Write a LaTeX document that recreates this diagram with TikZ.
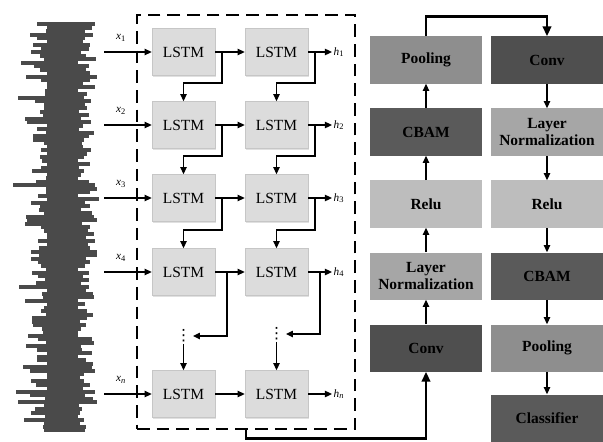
\documentclass[tikz,border=0pt]{standalone}
\usepackage{fontspec}
\setmainfont{Liberation Serif}
\newfontfamily\dotsfont{DejaVu Sans}
\usetikzlibrary{positioning, arrows.meta, calc, shadows}
\definecolor{lstmgray}{HTML}{DCDCDC}
\definecolor{convgray}{HTML}{4F4F4F}
\definecolor{cbamgray}{HTML}{5A5A5A}
\definecolor{poolgray}{HTML}{8E8E8E}
\definecolor{normgray}{HTML}{A6A6A6}
\definecolor{relugray}{HTML}{BDBDBD}
\definecolor{wavegray}{HTML}{4A4A4A}

\begin{document}
\begin{tikzpicture}[
      x=0.025cm, y=-0.025cm,
      every node/.style={font=\fontsize{11}{12.5}\selectfont},
      cell/.style={draw=gray!45, fill=lstmgray, minimum width=1.575cm, minimum height=1.175cm,
        drop shadow={shadow xshift=0.8pt, shadow yshift=-0.8pt, fill=gray!40, opacity=0.6}},
      cnnbox/.style={draw=none, minimum width=2.8cm, minimum height=1.175cm, align=center,
        font=\fontsize{11}{12}\selectfont\bfseries},
      lbl/.style={font=\fontsize{8}{9}\selectfont, inner sep=1pt},
      vdot/.style={font=\dotsfont\fontsize{11}{12}\selectfont, inner sep=1pt},
      arr/.style={line width=0.9pt, -{Triangle[length=5pt,width=4.5pt]}},
      flow/.style={line width=2pt, -{Triangle[length=7pt,width=6pt]}},
    ]
    \useasboundingbox (0,0) rectangle (603,441);
    % signal
    \fill[wavegray] (47,24) rectangle (78,432);
    \pgfmathsetseed{21}
    \foreach \i in {0,...,116}{
      \pgfmathsetmacro{\yy}{22+3.5*\i}
      \pgfmathsetmacro{\ll}{63-14-24*rnd^1.5-14*rnd^6}
      \pgfmathsetmacro{\rr}{63+14+20*rnd^1.5+6*rnd^4}
      \fill[wavegray] (\ll,\yy) rectangle (\rr,\yy+4);
    }

    % lstm part
    \node[draw, dashed, dash pattern=on 9pt off 5pt, line width=1pt,
      minimum width=5.45cm, minimum height=10.35cm] (lstm) at (246,222) {};

    \node[cell] (l11) at (183.5,52) {LSTM};
    \node[cell] (l12) at (276.5,52) {LSTM};
    \node[cell] (l21) at (183.5,125) {LSTM};
    \node[cell] (l22) at (276.5,125) {LSTM};
    \node[cell] (l31) at (183.5,198) {LSTM};
    \node[cell] (l32) at (276.5,198) {LSTM};
    \node[cell] (l41) at (183.5,272) {LSTM};
    \node[cell] (l42) at (276.5,272) {LSTM};
    \node[cell] (l51) at (183.5,394) {LSTM};
    \node[cell] (l52) at (276.5,394) {LSTM};
    \node[vdot] (v1) at (183.5,336) {⋮};
    \node[vdot] (v2) at (276.5,334) {⋮};

    \coordinate (s1) at (104,52);
    \coordinate (s2) at (104,125);
    \coordinate (s3) at (104,198);
    \coordinate (s4) at (104,272);
    \coordinate (s5) at (104,394);
    \node[lbl] (x1) at (121,38) {\textit{x}\textsubscript{1}};
    \node[lbl] (x2) at (121,111) {\textit{x}\textsubscript{2}};
    \node[lbl] (x3) at (121,184) {\textit{x}\textsubscript{3}};
    \node[lbl] (x4) at (121,258) {\textit{x}\textsubscript{4}};
    \node[lbl] (x5) at (121,380) {\textit{x}\textsubscript{\textit{n}}};
    \node[lbl, anchor=west] (h1) at (332,52) {\textit{h}\textsubscript{1}};
    \node[lbl, anchor=west] (h2) at (332,125) {\textit{h}\textsubscript{2}};
    \node[lbl, anchor=west] (h3) at (332,198) {\textit{h}\textsubscript{3}};
    \node[lbl, anchor=west] (h4) at (332,272) {\textit{h}\textsubscript{4}};
    \node[lbl, anchor=west] (h5) at (332,394) {\textit{h}\textsubscript{\textit{n}}};

    \draw[arr] (s1) -- (l11);
    \draw[arr] (s2) -- (l21);
    \draw[arr] (s3) -- (l31);
    \draw[arr] (s4) -- (l41);
    \draw[arr] (s5) -- (l51);
    \draw[arr] (l11) -- (l12);
    \draw[arr] (l21) -- (l22);
    \draw[arr] (l31) -- (l32);
    \draw[arr] (l41) -- (l42);
    \draw[arr] (l51) -- (l52);
    \draw[arr] (l12) -- (h1);
    \draw[arr] (l22) -- (h2);
    \draw[arr] (l32) -- (h3);
    \draw[arr] (l42) -- (h4);
    \draw[arr] (l52) -- (h5);

    \coordinate (b11) at (222,52);
    \coordinate (b21) at (222,125);
    \coordinate (b31) at (222,198);
    \coordinate (b41) at (227,272);
    \coordinate (b12) at (315,52);
    \coordinate (b22) at (315,125);
    \coordinate (b32) at (315,198);
    \coordinate (b42) at (320,272);
    \draw[arr] (b11) -- ++(0,31) -| (l21);
    \draw[arr] (b21) -- ++(0,31) -| (l31);
    \draw[arr] (b31) -- ++(0,32) -| (l41);
    \draw[arr] (b12) -- ++(0,31) -| (l22);
    \draw[arr] (b22) -- ++(0,31) -| (l32);
    \draw[arr] (b32) -- ++(0,32) -| (l42);
    \draw[arr] (b41) |- (v1.east);
    \draw[arr] (b42) |- (v2.east);
    \draw[arr] (v1) -- (l51);
    \draw[arr] (v2) -- (l52);

    % cnn part
    \node[cnnbox, fill=poolgray] (poolA) at (426,60) {Pooling};
    \node[cnnbox, fill=cbamgray] (cbamA) at (426,132) {CBAM};
    \node[cnnbox, fill=relugray] (reluA) at (426,204) {Relu};
    \node[cnnbox, fill=normgray] (normA) at (426,276) {Layer\\Normalization};
    \node[cnnbox, fill=convgray] (convA) at (426,348) {Conv};
    \node[cnnbox, fill=convgray] (convB) at (547,60) {Conv};
    \node[cnnbox, fill=normgray] (normB) at (547,132) {Layer\\Normalization};
    \node[cnnbox, fill=relugray] (reluB) at (547,204) {Relu};
    \node[cnnbox, fill=cbamgray] (cbamB) at (547,276) {CBAM};
    \node[cnnbox, fill=poolgray] (poolB) at (547,348) {Pooling};
    \node[cnnbox, fill=cbamgray] (cls) at (547,418) {Classifier};

    \draw[arr] (convA) -- (normA);
    \draw[arr] (normA) -- (reluA);
    \draw[arr] (reluA) -- (cbamA);
    \draw[arr] (cbamA) -- (poolA);
    \draw[arr] (convB) -- (normB);
    \draw[arr] (normB) -- (reluB);
    \draw[arr] (reluB) -- (cbamB);
    \draw[arr] (cbamB) -- (poolB);
    \draw[arr] (poolB) -- (cls);
    \draw[flow] (poolA.north) -- ++(0,-20) -| (convB.north);
    \draw[flow] (lstm.south) -- ++(0,9) -| (convA.south);
  \end{tikzpicture}
\end{document}
